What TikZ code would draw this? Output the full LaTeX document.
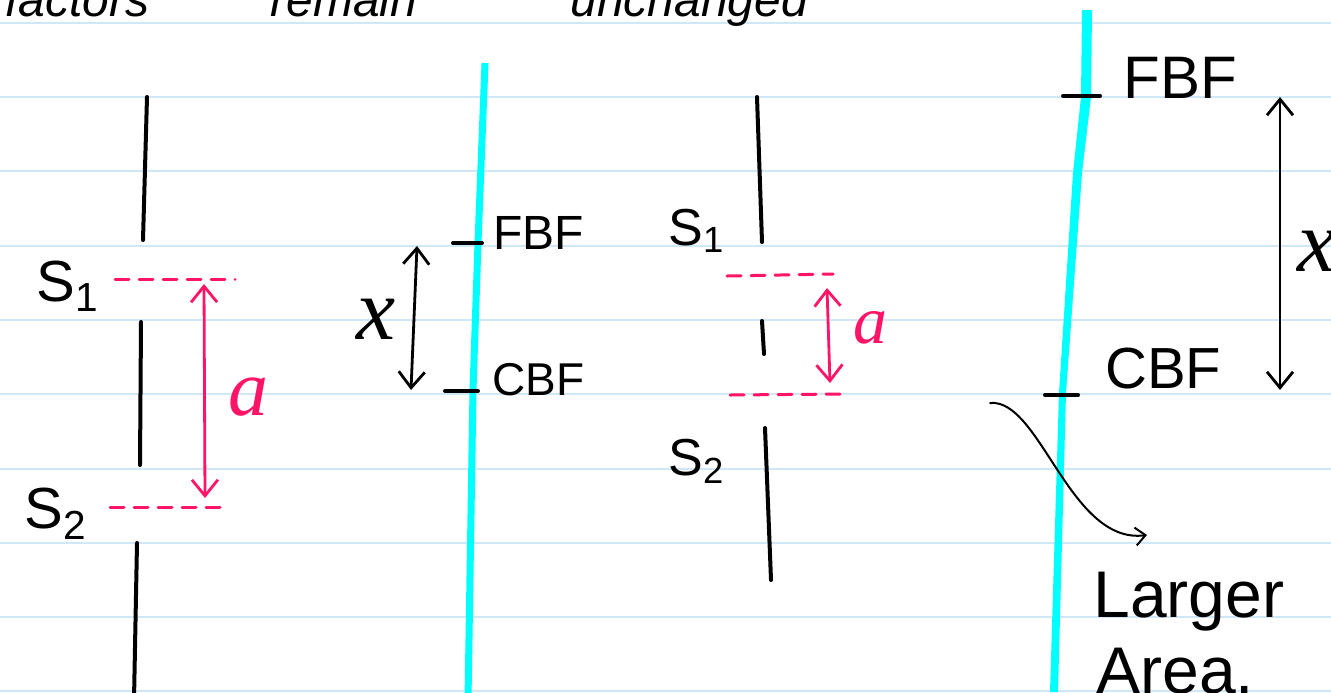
\documentclass[tikz,border=0pt]{standalone}
\usepackage{fontspec}
\setmainfont{Liberation Sans}
\newfontfamily\varfont{Liberation Serif}
\usetikzlibrary{arrows.meta}
\definecolor{ruleblue}{HTML}{CFE7F7}
\definecolor{scr}{HTML}{00FFFF}
\definecolor{pk}{HTML}{FF1468}
\tikzset{
  ruleline/.style={ruleblue, line width=1pt},
  slit/.style={black, line width=2pt, line cap=round},
  tick/.style={black, line width=2pt, line cap=round},
  pinkdash/.style={pk, line width=1.5pt, dash pattern=on 7pt off 5pt, line cap=round},
  pinkarrow/.style={pk, line width=1.4pt, line cap=round, {Straight Barb[length=8pt,width=13pt]}-{Straight Barb[length=8pt,width=13pt]}},
  blackarrow/.style={black, line width=1.4pt, line cap=round, {Straight Barb[length=8pt,width=13pt]}-{Straight Barb[length=8pt,width=13pt]}},
  thinarrow/.style={black, line width=1pt, line cap=round, -{Straight Barb[length=5pt,width=9pt]}},
  lbl/.style={inner sep=0pt, anchor=base west},
}
\begin{document}
\begin{tikzpicture}[x=0.5pt,y=-0.5pt]
\useasboundingbox (0,0) rectangle (1331,692);
\clip (0,0) rectangle (1331,692);
\fill[white] (0,0) rectangle (1331,692);
% ruled paper
\foreach \i in {0,...,9} {
  \draw[ruleline] (0,22.7+74.3*\i) -- (1331,22.7+74.3*\i);
}
% heading (cut off at the top edge, as in the notes)
\node[lbl, font=\fontsize{24}{26}\selectfont\itshape] (h1) at (5,16) {factors};
\node[lbl, font=\fontsize{24}{26}\selectfont\itshape] (h2) at (270,16) {remain};
\node[lbl, font=\fontsize{24}{26}\selectfont\itshape] (h3) at (570,16) {unchanged};

% ---------- left panel: slits ----------
\coordinate (l1a) at (147,97);  \coordinate (l1b) at (143,240);
\coordinate (l2a) at (141,322); \coordinate (l2b) at (140,465);
\coordinate (l3a) at (137,543); \coordinate (l3b) at (134,700);
\draw[slit] (l1a) -- (l1b);
\draw[slit] (l2a) -- (l2b);
\draw[slit] (l3a) -- (l3b);
\coordinate (ld1a) at (115,279); \coordinate (ld1b) at (235,279);
\coordinate (ld2a) at (110,507); \coordinate (ld2b) at (223,507);
\draw[pinkdash] (ld1a) -- (ld1b);
\draw[pinkdash] (ld2a) -- (ld2b);
\coordinate (la1) at (204,284); \coordinate (la2) at (205,498);
\draw[pinkarrow] (la1) -- (la2);
\node[lbl, font=\fontsize{29}{30}\selectfont] (S1a) at (36,301) {S\textsubscript{1}};
\node[lbl, font=\fontsize{29}{30}\selectfont] (S2a) at (24,528) {S\textsubscript{2}};
\node[lbl, pk, font=\fontsize{40}{44}\selectfont\varfont\itshape] (aL) at (228,415) {a};

% ---------- first screen ----------
\draw[scr, line width=3.5pt] (485,63) -- (478,243) -- (473,390) -- (468,700);
\coordinate (fb1a) at (453,243); \coordinate (fb1b) at (482,243);
\coordinate (cb1a) at (445,391); \coordinate (cb1b) at (478,391);
\draw[tick] (fb1a) -- (fb1b);
\draw[tick] (cb1a) -- (cb1b);
\node[lbl, font=\fontsize{24}{26}\selectfont] (FBF1) at (493,249) {FBF};
\node[lbl, font=\fontsize{23}{26}\selectfont] (CBF1) at (492,395) {CBF};
\coordinate (xa1) at (417,246); \coordinate (xa2) at (411,390);
\draw[blackarrow] (xa1) -- (xa2);
\node[lbl, font=\fontsize{44}{46}\selectfont\varfont\itshape] (x1) at (356,339) {x};

% ---------- middle panel: slits ----------
\coordinate (m1a) at (757,97);  \coordinate (m1b) at (762,242);
\coordinate (m2a) at (762,321); \coordinate (m2b) at (764,354);
\coordinate (m3a) at (765,428); \coordinate (m3b) at (771,580);
\draw[slit] (m1a) -- (m1b);
\draw[slit] (m2a) -- (m2b);
\draw[slit] (m3a) -- (m3b);
\coordinate (md1a) at (727,276); \coordinate (md1b) at (833,274);
\coordinate (md2a) at (730,395); \coordinate (md2b) at (842,394);
\draw[pinkdash] (md1a) -- (md1b);
\draw[pinkdash] (md2a) -- (md2b);
\coordinate (ma1) at (827,288); \coordinate (ma2) at (830,383);
\draw[pinkarrow] (ma1) -- (ma2);
\node[lbl, font=\fontsize{26}{28}\selectfont] (S1m) at (668,245) {S\textsubscript{1}};
\node[lbl, font=\fontsize{26}{28}\selectfont] (S2m) at (668,475) {S\textsubscript{2}};
\node[lbl, pk, font=\fontsize{34}{38}\selectfont\varfont\itshape] (aM) at (853,343) {a};

% ---------- second screen ----------
\fill[scr] (1082,10) -- (1092,10) -- (1091,97) -- (1082,173) -- (1066,393) -- (1058,692) -- (1050,692) -- (1059,393) -- (1073,173) -- (1081,97) -- cycle;
\coordinate (fb2a) at (1063,96); \coordinate (fb2b) at (1100,96);
\coordinate (cb2a) at (1045,395); \coordinate (cb2b) at (1078,395);
\draw[tick] (fb2a) -- (fb2b);
\draw[tick] (cb2a) -- (cb2b);
\node[lbl, font=\fontsize{30}{32}\selectfont] (FBF2) at (1123,98) {FBF};
\node[lbl, font=\fontsize{29}{32}\selectfont] (CBF2) at (1105,388) {CBF};
\coordinate (xb1) at (1280,97); \coordinate (xb2) at (1280,390);
\draw[blackarrow] (xb1) -- (xb2);
\node[lbl, font=\fontsize{44}{46}\selectfont\varfont\itshape] (x2) at (1297,271) {x};

% curved pointer
\coordinate (cv1) at (990,403); \coordinate (cv2) at (1147,535);
\draw[thinarrow] (cv1) .. controls (1040,398) and (1070,545) .. (cv2);
\node[lbl, font=\fontsize{33}{36}\selectfont] (lg1) at (1093,617) {Larger};
\node[lbl, font=\fontsize{33}{36}\selectfont] (lg2) at (1096,693) {Area.};
\end{tikzpicture}
\end{document}
